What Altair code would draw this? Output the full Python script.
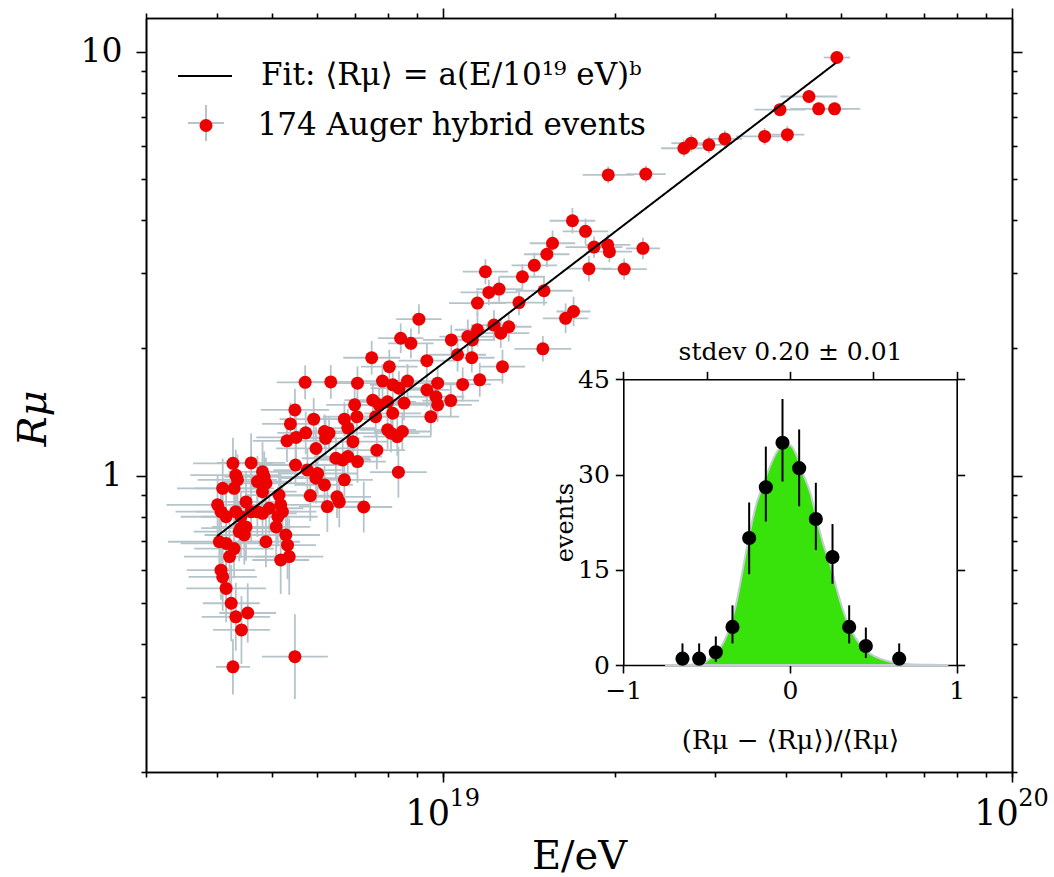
import altair as alt
import numpy as np
import pandas as pd

# ---------------- main scatter: log10(E/eV), log10(R_mu) ----------------
lg_E = [
    18.757, 18.802, 18.739, 18.731, 18.772, 18.758, 18.741, 18.725, 18.791, 18.799,
    18.776, 18.826, 18.811, 18.826, 18.740, 18.761, 18.779, 18.776, 18.791, 18.766,
    18.796, 18.813, 18.817, 18.630, 18.662, 18.635, 18.638, 18.612, 18.632, 18.682,
    18.685, 18.673, 18.688, 18.682, 18.711, 18.714, 18.717, 18.709, 18.706, 18.603,
    18.609, 18.618, 18.635, 18.653, 18.644, 18.662, 18.673, 18.682, 18.694, 18.644,
    18.653, 18.650, 18.641, 18.606, 18.618, 18.632, 18.624, 18.688, 18.723, 18.726,
    18.729, 18.714, 18.609, 18.612, 18.618, 18.627, 18.635, 18.656, 18.645, 18.630,
    18.739,
    19.227, 19.192, 19.182, 19.160, 19.139, 19.074, 19.080, 19.098, 19.060, 19.133,
    19.177, 19.215, 19.229, 18.957, 18.925, 18.943, 19.014, 19.043, 19.060, 19.089,
    19.101, 19.115, 19.051, 19.025, 19.050, 19.175, 19.104, 18.874, 18.905, 18.971,
    18.849, 18.893, 18.911, 18.937, 18.922, 18.971, 18.990, 19.034, 19.064, 18.987,
    19.013, 18.990, 18.978, 18.876, 18.887, 18.902, 18.931, 18.844, 18.848, 18.881,
    18.911, 18.832, 18.841, 18.823, 18.849, 18.832, 18.883, 18.902, 18.919, 18.928,
    18.908, 18.793, 18.921, 18.860,
    19.692, 19.643, 19.592, 19.660, 19.688, 19.565, 19.605, 19.423, 19.436, 19.467,
    19.495, 19.290, 19.356, 19.250, 19.265, 19.289, 19.292, 19.351, 19.256, 19.318,
]
lg_R = [
    0.220, 0.221, 0.155, 0.122, 0.133, 0.101, 0.090, 0.082, 0.104, 0.100,
    0.064, 0.133, 0.041, -0.010, 0.025, 0.013, 0.005, -0.006, -0.022, -0.047,
    -0.073, -0.050, -0.062, 0.029, 0.030, 0.001, -0.010, -0.030, -0.030, 0.009,
    -0.003, -0.014, -0.018, -0.038, -0.046, -0.069, -0.085, -0.097, -0.121, -0.069,
    -0.085, -0.097, -0.085, -0.062, -0.097, -0.085, -0.085, -0.089, -0.077, -0.124,
    -0.121, -0.140, -0.132, -0.156, -0.160, -0.172, -0.191, -0.156, -0.140, -0.164,
    -0.191, -0.199, -0.223, -0.239, -0.266, -0.301, -0.333, -0.324, -0.364, -0.451,
    -0.427,
    0.601, 0.548, 0.522, 0.496, 0.469, 0.481, 0.432, 0.440, 0.407, 0.408,
    0.436, 0.371, 0.387, 0.369, 0.324, 0.312, 0.320, 0.328, 0.344, 0.355,
    0.336, 0.351, 0.320, 0.285, 0.278, 0.299, 0.257, 0.278, 0.257, 0.271,
    0.218, 0.223, 0.214, 0.223, 0.206, 0.202, 0.218, 0.215, 0.226, 0.186,
    0.177, 0.167, 0.139, 0.178, 0.167, 0.174, 0.171, 0.167, 0.139, 0.139,
    0.147, 0.112, 0.080, 0.037, 0.033, 0.045, 0.060, 0.108, 0.092, 0.104,
    0.100, 0.088, 0.008, -0.074,
    0.986, 0.894, 0.863, 0.865, 0.865, 0.800, 0.804, 0.772, 0.784, 0.780,
    0.794, 0.709, 0.711, 0.576, 0.539, 0.544, 0.528, 0.536, 0.488, 0.487,
]
# half-widths of the error bars, in decades
err_lgE = [
    0.05, 0.06, 0.06, 0.05, 0.06, 0.05, 0.07, 0.06, 0.05, 0.06,
    0.07, 0.05, 0.06, 0.05, 0.08, 0.06, 0.07, 0.06, 0.05, 0.06,
    0.05, 0.06, 0.05, 0.07, 0.06, 0.08, 0.07, 0.08, 0.07, 0.06,
    0.07, 0.06, 0.07, 0.06, 0.06, 0.05, 0.06, 0.07, 0.06, 0.09,
    0.08, 0.08, 0.07, 0.06, 0.07, 0.06, 0.07, 0.06, 0.06, 0.07,
    0.06, 0.07, 0.08, 0.09, 0.08, 0.07, 0.08, 0.06, 0.06, 0.05,
    0.06, 0.05, 0.06, 0.06, 0.07, 0.05, 0.06, 0.05, 0.05, 0.03,
    0.058,
    0.04, 0.04, 0.04, 0.04, 0.04, 0.04, 0.05, 0.04, 0.05, 0.05,
    0.05, 0.04, 0.03, 0.04, 0.04, 0.04, 0.05, 0.05, 0.04, 0.04,
    0.05, 0.04, 0.04, 0.05, 0.04, 0.05, 0.04, 0.05, 0.05, 0.05,
    0.05, 0.05, 0.04, 0.05, 0.05, 0.04, 0.05, 0.05, 0.04, 0.05,
    0.05, 0.06, 0.05, 0.05, 0.05, 0.05, 0.05, 0.05, 0.06, 0.05,
    0.05, 0.05, 0.06, 0.05, 0.05, 0.06, 0.05, 0.05, 0.06, 0.05,
    0.05, 0.06, 0.05, 0.05,
    0.023, 0.05, 0.045, 0.05, 0.045, 0.05, 0.03, 0.04, 0.035, 0.035,
    0.03, 0.045, 0.035, 0.04, 0.05, 0.04, 0.04, 0.03, 0.04, 0.04,
]
err_lgR = [
    0.04, 0.04, 0.05, 0.05, 0.05, 0.05, 0.05, 0.05, 0.04, 0.04,
    0.05, 0.04, 0.05, 0.06, 0.05, 0.05, 0.05, 0.06, 0.05, 0.06,
    0.06, 0.05, 0.06, 0.06, 0.07, 0.06, 0.06, 0.07, 0.06, 0.07,
    0.06, 0.06, 0.06, 0.07, 0.06, 0.07, 0.06, 0.07, 0.08, 0.07,
    0.06, 0.07, 0.06, 0.07, 0.06, 0.07, 0.06, 0.07, 0.06, 0.07,
    0.08, 0.07, 0.07, 0.07, 0.08, 0.07, 0.08, 0.06, 0.07, 0.08,
    0.09, 0.08, 0.07, 0.08, 0.08, 0.09, 0.08, 0.07, 0.08, 0.065,
    0.10,
    0.03, 0.03, 0.03, 0.03, 0.03, 0.03, 0.03, 0.03, 0.03, 0.03,
    0.035, 0.035, 0.035, 0.035, 0.035, 0.035, 0.035, 0.04, 0.04, 0.035,
    0.035, 0.035, 0.035, 0.04, 0.035, 0.03, 0.04, 0.04, 0.04, 0.04,
    0.04, 0.04, 0.04, 0.04, 0.04, 0.04, 0.04, 0.04, 0.04, 0.04,
    0.04, 0.04, 0.045, 0.04, 0.04, 0.045, 0.04, 0.045, 0.045, 0.045,
    0.04, 0.045, 0.045, 0.05, 0.05, 0.05, 0.045, 0.045, 0.045, 0.045,
    0.045, 0.05, 0.06, 0.06,
    0.015, 0.015, 0.015, 0.015, 0.015, 0.02, 0.02, 0.02, 0.02, 0.02,
    0.02, 0.02, 0.02, 0.03, 0.025, 0.025, 0.025, 0.025, 0.03, 0.025,
]

# fit line end points
fit_E = [4.0e18, 4.9e19]
fit_R = [0.72, 9.4]

# ---------------- inset histogram ----------------
hist_x = [-0.645, -0.545, -0.445, -0.345, -0.245, -0.145, -0.045, 0.055, 0.155, 0.255, 0.355, 0.455, 0.655]
hist_n = [1, 1, 2, 6, 20, 28, 35, 31, 23, 17, 6, 3, 1]
hist_lo = [0, 0, 0.5, 3.4, 14.3, 22.6, 28.9, 25.0, 18.1, 12.8, 3.4, 1.1, 0]
hist_hi = [3.4, 3.4, 4.5, 9.4, 25.6, 34.4, 41.9, 37.1, 28.7, 22.2, 9.4, 5.9, 3.4]

curve_x = [-0.75, -0.6, -0.52, -0.48, -0.44, -0.40, -0.36, -0.32, -0.28, -0.24, -0.20, -0.16,
           -0.12, -0.08, -0.04, 0.0, 0.04, 0.08, 0.12, 0.16, 0.20, 0.24, 0.28, 0.32, 0.36,
           0.40, 0.44, 0.48, 0.54, 0.62, 0.72, 0.85, 0.95]
curve_y = [0, 0.05, 0.3, 1.0, 2.0, 3.5, 6, 10, 15.5, 21, 25.5, 28.5,
           31.3, 33.5, 34.6, 34.6, 33, 30, 27.3, 23, 19, 16, 12, 8.5, 5.8,
           4, 2.7, 1.8, 1.0, 0.4, 0.1, 0.02, 0]

# ---------------- ticks & labels ----------------
x_major_ticks = [1e19, 1e20]
x_minor_ticks = [3e18, 4e18, 5e18, 6e18, 7e18, 8e18, 9e18,
                 2e19, 3e19, 4e19, 5e19, 6e19, 7e19, 8e19, 9e19]
y_major_ticks = [1, 10]
y_minor_ticks = [0.2, 0.3, 0.4, 0.5, 0.6, 0.7, 0.8, 0.9, 2, 3, 4, 5, 6, 7, 8, 9]
inset_x_ticks = [-1, 0, 1]
inset_x_top_ticks = [-1, -0.5, 0, 0.5, 1]
inset_y_ticks = [0, 15, 30, 45]

fit_label = "Fit: ⟨Rμ⟩ = a(E/10¹⁹ eV)ᵇ"
events_label = "174 Auger hybrid events"

SERIF = "DejaVu Serif"
RED = "#ec0000"
ERR = "#b5c4cb"
GREEN = "#38e30c"
CURVE = "#c5ced3"

W, H = 866, 754
PL, PT = 146, 18

lgE = np.array(lg_E)
lgR = np.array(lg_R)
dE = np.array(err_lgE)
dR = np.array(err_lgR)
events = pd.DataFrame({
    "E": 10 ** lgE, "R": 10 ** lgR,
    "E_lo": 10 ** (lgE - dE), "E_hi": 10 ** (lgE + dE),
    "R_lo": 10 ** (lgR - dR), "R_hi": 10 ** (lgR + dR),
})
events["err_key"] = "err"
events["pt_key"] = events_label
fit_df = pd.DataFrame({"E": fit_E, "R": fit_R})
fit_df["key"] = fit_label
hist_df = pd.DataFrame({"hx": hist_x, "n": hist_n, "lo": hist_lo, "hi": hist_hi})
curve_df = pd.DataFrame({"cx": curve_x, "cy": curve_y})


def ax(**kw):
    base = dict(grid=False, domainColor="black", tickColor="black", domainWidth=1.6,
                tickWidth=1.6, labelFlush=False, labelOverlap=False, labelFont=SERIF,
                titleFont=SERIF, labelColor="black", titleColor="black",
                titleFontWeight="normal")
    base.update(kw)
    return alt.Axis(**base)


xs = alt.Scale(type="log", domain=[3e18, 1e20], nice=False)
ys = alt.Scale(type="log", domain=[0.2, 12], nice=False)

# "10" part of the x labels on the major axis, the exponent on the minor-tick axis
x_bottom_major = ax(orient="bottom", values=x_major_ticks, tickSize=10,
                    labelExpr="'10'", labelFontSize=35, labelPadding=14, labelOffset=-16,
                    title="E/eV", titleFontSize=40, titleY=96, titleBaseline="alphabetic")
x_bottom_minor = ax(orient="bottom", values=x_minor_ticks + x_major_ticks, tickSize=5,
                    labelExpr="abs(datum.value / 1e19 - 1) < 0.01 ? '19' : "
                              "(abs(datum.value / 1e20 - 1) < 0.01 ? '20' : '')",
                    labelFontSize=24, labelPadding=9, labelOffset=21, title=None)
y_left_major = ax(orient="left", values=y_major_ticks, tickSize=10,
                  labelExpr="datum.value > 5 ? '10' : '1'", labelFontSize=33,
                  labelPadding=14, title="Rμ", titleFontSize=40, titleFontStyle="italic",
                  titleX=-113, titleY=400, titleBaseline="middle")
y_left_minor = ax(orient="left", values=y_minor_ticks, tickSize=5, labels=False, title=None)
x_top_major = ax(orient="top", values=x_major_ticks, tickSize=10, labels=False, title=None)
y_right_major = ax(orient="right", values=y_major_ticks, tickSize=10, labels=False, title=None)
x_top_minor = ax(orient="top", values=x_minor_ticks, tickSize=5, labels=False, title=None)
y_right_minor = ax(orient="right", values=y_minor_ticks, tickSize=5, labels=False, title=None)

cross_legend = alt.Legend(orient="none", legendX=41, legendY=86, symbolType="M-1,0H1M0,-1V1",
                          symbolSize=1296, symbolStrokeWidth=2, labelExpr="''", title=None,
                          padding=0)
pts_legend = alt.Legend(orient="none", legendX=44.5, legendY=92, symbolType="circle",
                        symbolSize=169, symbolStrokeWidth=0, labelFont=SERIF, labelFontSize=31,
                        labelColor="black", labelOffset=36, labelLimit=800, title=None, padding=0)
fit_legend = alt.Legend(orient="none", legendX=31, legendY=30, symbolType="stroke",
                        symbolSize=2916, symbolStrokeWidth=2, symbolStrokeColor="black",
                        labelFont=SERIF, labelFontSize=31, labelColor="black", labelOffset=28,
                        labelLimit=800, title=None, padding=0)

err_color = alt.Color("err_key:N", scale=alt.Scale(domain=["err"], range=[ERR]), legend=cross_legend)

hbar = alt.Chart(events).mark_rule(strokeWidth=1.8).encode(
    x=alt.X("E_lo:Q", scale=xs, axis=x_bottom_major),
    x2="E_hi:Q",
    y=alt.Y("R:Q", scale=ys, axis=y_left_major),
    color=err_color,
)
vbar = alt.Chart(events).mark_rule(strokeWidth=1.8).encode(
    x=alt.X("E:Q", scale=xs, axis=x_bottom_minor),
    y=alt.Y("R_lo:Q", scale=ys, axis=y_left_minor),
    y2="R_hi:Q",
    color=err_color,
)
pts = alt.Chart(events).mark_circle(size=169, opacity=1).encode(
    x=alt.X("E:Q", scale=xs, axis=x_top_major),
    y=alt.Y("R:Q", scale=ys, axis=y_right_major),
    fill=alt.Fill("pt_key:N", scale=alt.Scale(domain=[events_label], range=[RED]),
                  legend=pts_legend),
)
fit = alt.Chart(fit_df).mark_line(color="black", strokeWidth=2).encode(
    x=alt.X("E:Q", scale=xs, axis=x_top_minor),
    y=alt.Y("R:Q", scale=ys, axis=y_right_minor),
    strokeDash=alt.StrokeDash("key:N", scale=alt.Scale(domain=[fit_label], range=[[1, 0]]),
                              legend=fit_legend),
)

# ---------------- inset ----------------
IX0, IX1 = 477.3, 810.7
IY0, IY1 = 647, 361.3
ixs = alt.Scale(domain=[-1, 1], range=[IX0, IX1], nice=False, zero=False)
iys = alt.Scale(domain=[0, 45], range=[IY0, IY1], nice=False, zero=False)

inset_bottom = ax(orient="bottom", offset=IY0 - H, values=inset_x_ticks, tickSize=8, format=".0f",
                  labelFontSize=25, labelPadding=5, title="(Rμ − ⟨Rμ⟩)/⟨Rμ⟩",
                  titleFontSize=26, titleY=75, titleBaseline="middle")
inset_left = ax(orient="left", offset=-IX0, values=inset_y_ticks, tickSize=8, labelFontSize=25,
                labelPadding=6, title="events", titleFontSize=24, titleX=-58,
                titleBaseline="middle")
inset_top = ax(orient="top", offset=-IY1, values=inset_x_top_ticks, tickSize=8, labels=False,
               title="stdev 0.20 ± 0.01", titleFontSize=25, titlePadding=6)
inset_right = ax(orient="right", offset=-(W - IX1), values=inset_y_ticks, tickSize=8,
                 labels=False, title=None)

inset_area = alt.Chart(curve_df).mark_area(fill=GREEN, fillOpacity=1, stroke=CURVE, strokeWidth=2,
                                           interpolate="monotone").encode(
    x=alt.X("cx:Q", scale=ixs, axis=inset_bottom),
    y=alt.Y("cy:Q", scale=iys, axis=inset_left),
)
inset_bars = alt.Chart(hist_df).mark_rule(color="black", strokeWidth=2).encode(
    x=alt.X("hx:Q", scale=ixs, axis=inset_top),
    y=alt.Y("lo:Q", scale=iys, axis=inset_right),
    y2="hi:Q",
)
inset_pts = alt.Chart(hist_df).mark_circle(size=200, color="black", opacity=1).encode(
    x=alt.X("hx:Q", scale=ixs, axis=None),
    y=alt.Y("n:Q", scale=iys, axis=None),
)

chart = alt.layer(
    hbar, vbar, pts, fit, inset_area, inset_bars, inset_pts
).resolve_scale(
    x="independent", y="independent"
).resolve_axis(
    x="independent", y="independent"
).properties(
    width=W, height=H,
    padding={"left": PL, "top": PT, "right": 1054 - PL - W, "bottom": 877 - PT - H},
    autosize=alt.AutoSizeParams(type="none"),
    background="white",
).configure_view(stroke=None)

chart.save("out.html", embed_options={"renderer": "svg", "actions": False})
